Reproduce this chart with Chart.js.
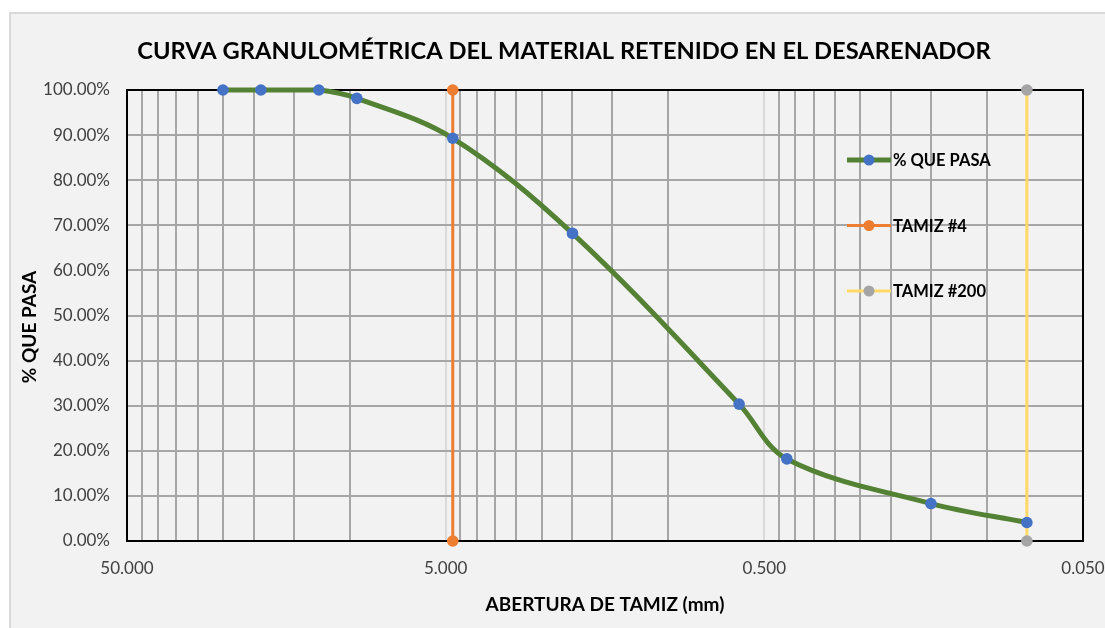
<!DOCTYPE html>
<html>
<head>
<meta charset="utf-8">
<script src="https://cdn.jsdelivr.net/npm/chart.js@4.4.1/dist/chart.umd.min.js"></script>
<style>
  html, body { margin: 0; padding: 0; background: #fff; }
  canvas { display: block; }
</style>
</head>
<body>
<canvas id="curva" width="1105" height="628"></canvas>
<script>
// sieve openings (mm) and % passing
const aberturas = [25, 19, 12.5, 9.5, 4.75, 2, 0.6, 0.425, 0.15, 0.075];
const quePasa = [100, 100, 100, 98.15, 89.3, 68.2, 30.35, 18.2, 8.3, 4.1];

// vertical reference lines
const tamiz4 = [4.75, 4.75];
const tamiz200 = [0.075, 0.075];
const tamizY = [0, 100];

// x axis: labelled decades + minor steps
const decadas = [0.05, 0.5, 5, 50];
const pasosMenores = [2, 3, 4, 5, 6, 7, 8, 9];

const titulo = 'CURVA GRANULOMÉTRICA DEL MATERIAL RETENIDO EN EL DESARENADOR';
const tituloY = '% QUE PASA';
const tituloX = 'ABERTURA DE TAMIZ (mm)';

const fuente = 'Lato, "Open Sans", sans-serif';

window.onload = function() {

  const ctx = document.querySelector('#curva');

  // all tick values for the log axis
  let xTicks = [];
  decadas.forEach((d, i) => {
    xTicks.push(d);
    if (i < decadas.length - 1) {
      pasosMenores.forEach(k => xTicks.push(+(d * k).toFixed(4)));
    }
  });
  const esDecada = v => decadas.some(d => Math.abs(d - v) < 1e-9);

  const toPts = (xs, ys) => xs.map((x, i) => ({x: x, y: ys[i]}));

  // chart box background + chart title + y title (excel puts them off-centre)
  const fondo = {
    id: 'fondo',
    beforeDraw(chart) {
      const c = chart.ctx;
      c.save();
      c.fillStyle = '#ffffff';
      c.fillRect(0, 0, chart.width, chart.height);
      c.fillStyle = '#f2f2f2';
      c.fillRect(9, 12, chart.width - 9, chart.height - 12);
      c.strokeStyle = '#d9d9d9';
      c.lineWidth = 2;
      c.beginPath();
      c.moveTo(10, chart.height);
      c.lineTo(10, 13);
      c.lineTo(chart.width, 13);
      c.stroke();

      c.fillStyle = '#000';
      c.textAlign = 'center';
      c.textBaseline = 'middle';
      c.font = 'bold 23.7px ' + fuente;
      c.fillText(titulo, 564, 51);

      c.translate(30, 327);
      c.rotate(-Math.PI / 2);
      c.font = 'bold 19px ' + fuente;
      c.fillText(tituloY, 0, 0);
      c.restore();
    }
  };

  // black frame round the plot area, under the series
  const marco = {
    id: 'marco',
    beforeDatasetsDraw(chart) {
      const a = chart.chartArea;
      const c = chart.ctx;
      c.save();
      c.strokeStyle = '#000';
      c.lineWidth = 2;
      c.strokeRect(a.left, a.top, a.right - a.left, a.bottom - a.top);
      c.restore();
    }
  };

  // legend drawn inside the plot, like the excel one
  const leyenda = {
    id: 'leyenda',
    afterDatasetsDraw(chart) {
      const a = chart.chartArea;
      const c = chart.ctx;
      const x0 = a.right - 236;
      let y = a.top + 70;
      c.save();
      c.font = 'bold 16.5px ' + fuente;
      c.textBaseline = 'middle';
      chart.data.datasets.forEach(ds => {
        c.strokeStyle = ds.borderColor;
        c.lineWidth = ds.borderWidth;
        c.beginPath();
        c.moveTo(x0, y);
        c.lineTo(x0 + 44, y);
        c.stroke();
        c.fillStyle = ds.pointBackgroundColor;
        c.beginPath();
        c.arc(x0 + 22, y, 5.5, 0, Math.PI * 2);
        c.fill();
        c.fillStyle = '#000';
        c.fillText(ds.label, x0 + 46, y + 1);
        y += 65.5;
      });
      c.restore();
    }
  };

  const chartData = {
    datasets: [
      {
        label: '% QUE PASA',
        data: toPts(aberturas, quePasa),
        borderColor: '#548235',
        borderWidth: 5,
        pointBackgroundColor: '#4472c4',
        pointBorderColor: '#4472c4',
        pointRadius: 5.8,
        pointBorderWidth: 0,
        tension: 0.35,
        clip: 12,
        order: 0
      },
      {
        label: 'TAMIZ #4',
        data: toPts(tamiz4, tamizY),
        borderColor: '#ed7d31',
        borderWidth: 3,
        pointBackgroundColor: '#ed7d31',
        pointBorderColor: '#ed7d31',
        pointRadius: 5.8,
        pointBorderWidth: 0,
        clip: 12,
        order: 1
      },
      {
        label: 'TAMIZ #200',
        data: toPts(tamiz200, tamizY),
        borderColor: '#ffd966',
        borderWidth: 3,
        pointBackgroundColor: '#a5a5a5',
        pointBorderColor: '#a5a5a5',
        pointRadius: 5.8,
        pointBorderWidth: 0,
        clip: 12,
        order: 2
      }
    ]
  };

  const curvaChart = new Chart(ctx, {
    type: 'line',
    data: chartData,
    plugins: [fondo, marco, leyenda],
    options: {
      responsive: false,
      animation: false,
      layout: { padding: { left: 0, top: 90, right: 22, bottom: 0 } },
      plugins: {
        legend: { display: false },
        tooltip: { enabled: false },
        title: { display: false }
      },
      scales: {
        x: {
          type: 'logarithmic',
          reverse: true,
          min: 0.05,
          max: 50,
          afterBuildTicks: s => {
            s.ticks = xTicks.map(v => ({ value: v, major: esDecada(v) }));
          },
          afterFit: s => { s.height = 87; },
          ticks: {
            autoSkip: false,
            maxRotation: 0,
            padding: 17,
            color: '#404040',
            font: { family: fuente, size: 17 },
            callback: v => esDecada(v) ? v.toFixed(3) : ''
          },
          grid: {
            drawTicks: false,
            lineWidth: 2,
            color: c => (c.tick && esDecada(c.tick.value)) ? '#d9d9d9' : '#a6a6a6'
          },
          border: { display: false },
          title: {
            display: true,
            text: tituloX,
            color: '#000',
            font: { family: fuente, size: 19, weight: 'bold', lineHeight: 1.2 },
            padding: { top: 0, bottom: 12 }
          }
        },
        y: {
          min: 0,
          max: 100,
          afterFit: s => { s.width = 127; },
          ticks: {
            stepSize: 10,
            padding: 17,
            color: '#404040',
            font: { family: fuente, size: 17 },
            callback: v => v.toFixed(2) + '%'
          },
          grid: {
            drawTicks: false,
            lineWidth: 2,
            color: '#a6a6a6'
          },
          border: { display: false }
        }
      }
    }
  });
  console.log(curvaChart.chartArea);
};
</script>
</body>
</html>
